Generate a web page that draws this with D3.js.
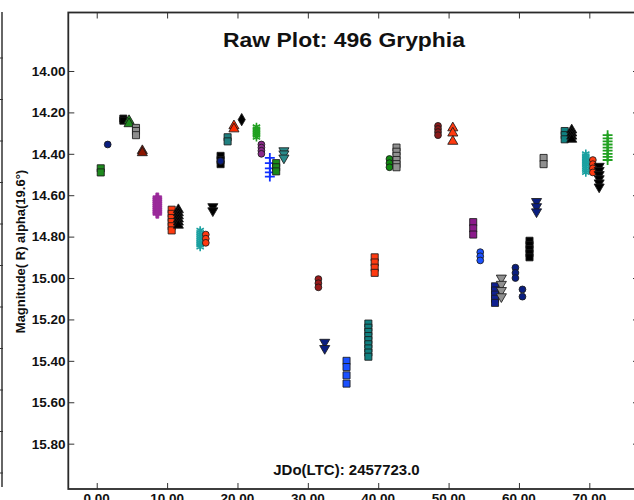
<!DOCTYPE html>
<html>
<head>
<meta charset="utf-8">
<script src="https://cdn.jsdelivr.net/npm/d3@7"></script>
<style>
  html, body { margin: 0; padding: 0; background: #fff; }
  svg { display: block; }
  text { font-family: "Liberation Sans", Arial, sans-serif; font-weight: bold; fill: #111; }
</style>
</head>
<body>
<svg id="chart" width="634" height="500"></svg>
<script>
// ---- data ----
const titleText = "Raw Plot: 496 Gryphia";
const xLabel = "JDo(LTC): 2457723.0";
const yLabel = "Magnitude( R) alpha(19.6°)";
const xTicks = [0, 10, 20, 30, 40, 50, 60, 70];
const yTicks = [14.0, 14.2, 14.4, 14.6, 14.8, 15.0, 15.2, 15.4, 15.6, 15.8];

// session day offsets (JD - 2457723.0)
const sessionDays = [
  0.57, 1.56, 3.78, 4.59, 5.58, 6.48, 8.61, 10.65, 11.6, 14.7,
  15.5, 16.5, 17.6, 17.6, 18.6, 19.5, 20.6, 22.7, 23.4, 24.6,
  25.5, 26.6, 31.5, 32.4, 35.5, 38.6, 39.5, 41.6, 42.6, 48.5,
  50.6, 53.5, 54.5, 56.6, 57.5, 59.5, 60.5, 61.5, 62.5, 63.5,
  66.5, 67.5, 69.5, 70.5, 71.4, 72.6
];
// magnitudes observed in each session
const sessionMags = [
  [14.47, 14.49],
  [14.355],
  [14.23, 14.24],
  [14.24, 14.255],
  [14.275, 14.29, 14.31],
  [14.385, 14.395],
  [14.61, 14.62, 14.63, 14.64, 14.65, 14.66, 14.67, 14.68, 14.69],
  [14.67, 14.69, 14.71, 14.73, 14.75, 14.77],
  [14.67, 14.685, 14.70, 14.715, 14.73, 14.745],
  [14.77, 14.78, 14.79, 14.80, 14.81, 14.82, 14.83, 14.84, 14.85],
  [14.79, 14.81, 14.83],
  [14.655, 14.675],
  [14.41, 14.43, 14.45],
  [14.435],
  [14.32, 14.34],
  [14.265, 14.28],
  [14.235],
  [14.27, 14.28, 14.29, 14.30, 14.31, 14.32],
  [14.355, 14.37, 14.385, 14.40],
  [14.42, 14.445, 14.47, 14.49, 14.51],
  [14.445, 14.465, 14.485],
  [14.385, 14.40, 14.42],
  [15.005, 15.025, 15.045],
  [15.31, 15.34],
  [15.40, 15.43, 15.47, 15.51],
  [15.22, 15.24, 15.26, 15.28, 15.30, 15.32, 15.34, 15.36, 15.38],
  [14.90, 14.925, 14.95, 14.975],
  [14.425, 14.445, 14.465],
  [14.37, 14.39, 14.41, 14.43, 14.45, 14.465],
  [14.265, 14.28, 14.295, 14.31],
  [14.275, 14.30, 14.34],
  [14.73, 14.76, 14.79],
  [14.875, 14.895, 14.915],
  [15.04, 15.06, 15.08, 15.10, 15.12],
  [15.00, 15.03, 15.06, 15.09],
  [14.95, 14.975, 15.00],
  [15.055, 15.09],
  [14.82, 14.84, 14.86, 14.88, 14.90],
  [14.63, 14.655, 14.68],
  [14.42, 14.45],
  [14.29, 14.31, 14.33],
  [14.285, 14.30, 14.315, 14.33],
  [14.40, 14.41, 14.42, 14.43, 14.44, 14.45, 14.46, 14.47, 14.48, 14.49],
  [14.43, 14.45, 14.47, 14.49],
  [14.46, 14.48, 14.50, 14.52, 14.54, 14.56],
  [14.31, 14.325, 14.34, 14.355, 14.37, 14.385, 14.40, 14.415, 14.43]
];

// ---- styles (marker shape, colour) per session ----
const sessionShape = [
  "square", "circle", "square", "tri", "square", "tri", "blob", "square", "tri", "aster",
  "circle", "down", "square", "circle", "square", "tri", "diamond", "aster", "circle", "plus",
  "square", "down", "circle", "down", "square", "square", "square", "circle", "square", "circle",
  "tri", "square", "circle", "square", "down", "circle", "circle", "square", "down", "square",
  "square", "tri", "aster", "circle", "down", "plus"
];
const sessionColor = [
  "#1e8a1e", "#0a1e80", "#000000", "#1e8a1e", "#8c8c8c", "#8b1500", "#9a2a9a", "#ff3a10", "#000000", "#1aa0a0",
  "#ff3a10", "#000000", "#000000", "#0a1e80", "#208080", "#ff2a00", "#000000", "#20a020", "#8b2a8b", "#1030ff",
  "#1a8a1a", "#2a8a8a", "#9a1a1a", "#0a1e80", "#1a50ff", "#108080", "#ff3a10", "#108a10", "#909090", "#8b1a1a",
  "#ff3a10", "#8b1a8b", "#1a50ff", "#102090", "#909090", "#0a1e80", "#0a1e80", "#000000", "#0a1e80", "#909090",
  "#108080", "#000000", "#1aa0a0", "#ff3a10", "#000000", "#20a020"
];

// ---- layout ----
const svg = d3.select("#chart");
const frame = { left: 68.3, right: 639, top: 12.5, bottom: 489 };

const x = d3.scaleLinear().domain([-4.04, 77.06]).range([frame.left, frame.right]);
const y = d3.scaleLinear().domain([13.7175, 16.019]).range([frame.top, frame.bottom]);

// partial neighbouring panel edge at far left
const leftEdge = d3.scaleLinear().domain([0, 10]).range([58, 473]);
svg.append("line").attr("x1", 2).attr("x2", 2).attr("y1", 12).attr("y2", 487)
  .attr("stroke", "#333").attr("stroke-width", 1.5);
svg.append("g").selectAll("line").data(d3.range(0, 11)).join("line")
  .attr("x1", 0).attr("x2", 3)
  .attr("y1", d => leftEdge(d)).attr("y2", d => leftEdge(d))
  .attr("stroke", "#333").attr("stroke-width", 1);

// axes (ticks inside the frame)
const fmt = d3.format(".2f");
const gLeft = svg.append("g").attr("transform", `translate(${frame.left},0)`)
  .call(d3.axisRight(y).tickValues(yTicks).tickSize(6).tickFormat(""));
const gRight = svg.append("g").attr("transform", `translate(${frame.right},0)`)
  .call(d3.axisLeft(y).tickValues(yTicks).tickSize(6).tickFormat(""));
const gTop = svg.append("g").attr("transform", `translate(0,${frame.top})`)
  .call(d3.axisBottom(x).tickValues(xTicks).tickSize(6).tickFormat(""));
const gBottom = svg.append("g").attr("transform", `translate(0,${frame.bottom})`)
  .call(d3.axisTop(x).tickValues(xTicks).tickSize(6).tickFormat(""));
[gLeft, gRight, gTop, gBottom].forEach(g => {
  g.select(".domain").remove();
  g.selectAll(".tick line").attr("stroke", "#333").attr("stroke-width", 1);
});

// frame
svg.append("rect")
  .attr("x", frame.left).attr("y", frame.top)
  .attr("width", frame.right - frame.left).attr("height", frame.bottom - frame.top)
  .attr("fill", "none").attr("stroke", "#2a2a2a").attr("stroke-width", 1.8);

// tick labels
svg.append("g").selectAll("text").data(yTicks).join("text")
  .attr("x", 65.5).attr("y", d => y(d)).attr("dy", "0.36em")
  .attr("text-anchor", "end").style("font-size", "13.5px")
  .text(d => fmt(d));
svg.append("g").selectAll("text").data(xTicks).join("text")
  .attr("x", d => x(d)).attr("y", 503)
  .attr("text-anchor", "middle").style("font-size", "13.5px")
  .text(d => fmt(d));

// titles
svg.append("text").attr("x", 344).attr("y", 47)
  .attr("text-anchor", "middle").style("font-size", "19.5px")
  .attr("textLength", 242).attr("lengthAdjust", "spacingAndGlyphs")
  .text(titleText);
svg.append("text").attr("x", 346.5).attr("y", 474.5)
  .attr("text-anchor", "middle").style("font-size", "15px")
  .text(xLabel);
svg.append("text")
  .attr("transform", "translate(25,251.5) rotate(-90)")
  .attr("text-anchor", "middle").style("font-size", "13px")
  .text(yLabel);

// ---- data marks ----
const shapeDef = {
  square:  { sym: d3.symbolSquare,   size: 50, rot: 0,   filled: true,  sw: 1.0 },
  circle:  { sym: d3.symbolCircle,   size: 36, rot: 0,   filled: true,  sw: 1.0 },
  tri:     { sym: d3.symbolTriangle, size: 44, rot: 0,   filled: true,  sw: 1.0 },
  down:    { sym: d3.symbolTriangle, size: 44, rot: 180, filled: true,  sw: 1.0 },
  diamond: { sym: d3.symbolDiamond,  size: 44, rot: 0,   filled: true,  sw: 1.0 },
  plus:    { sym: d3.symbolPlus,     size: 34, rot: 0,   filled: false, sw: 1.8 },
  blob:    { sym: d3.symbolCross,    size: 42, rot: 0,   filled: true,  sw: 0.8 },
  aster:   { sym: d3.symbolAsterisk, size: 50, rot: 0,   filled: false, sw: 1.6 }
};

const points = [];
sessionDays.forEach((day, i) => {
  sessionMags[i].forEach(m => points.push({ day, mag: m, shape: sessionShape[i], color: sessionColor[i] }));
});

const plot = svg.append("g");
plot.selectAll("path").data(points).join("path")
  .attr("transform", d => `translate(${x(d.day)},${y(d.mag)}) rotate(${shapeDef[d.shape].rot})`)
  .attr("d", d => d3.symbol(shapeDef[d.shape].sym, shapeDef[d.shape].size)())
  .attr("fill", d => shapeDef[d.shape].filled ? d.color : "none")
  .attr("stroke", d => d.shape === "blob" ? d.color : (shapeDef[d.shape].filled ? "#1a1a1a" : d.color))
  .attr("stroke-width", d => shapeDef[d.shape].sw)
  .attr("stroke-opacity", d => shapeDef[d.shape].filled && d.shape !== "blob" ? 0.85 : 1);
</script>
</body>
</html>
